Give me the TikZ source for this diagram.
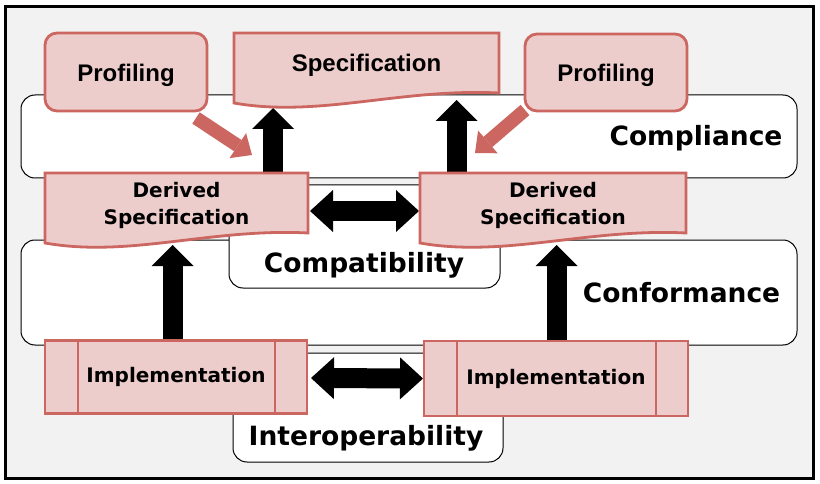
\documentclass[tikz,border=0pt]{standalone}
\usepackage{fontspec}
\setmainfont{DejaVu Sans}
\newfontfamily\arialf{Liberation Sans}
\usetikzlibrary{arrows.meta}
\definecolor{pinkfill}{RGB}{237,205,204}
\definecolor{pinkline}{RGB}{203,102,96}
\definecolor{bggray}{RGB}{242,242,242}
\pgfdeclarelayer{bandlayer}
\pgfdeclarelayer{arrowlayer}
\pgfsetlayers{bandlayer,arrowlayer,main}
\tikzset{
  band/.style={draw=black, line width=1pt, fill=white, rounded corners=14pt},
  pinkbox/.style={draw=pinkline, fill=pinkfill, line width=2.8pt, outer sep=0pt, inner sep=0pt},
  docnode/.style={anchor=north west, minimum height=60pt, inner sep=0pt, outer sep=0pt},
  bigtxt/.style={font=\bfseries\fontsize{26.5}{30}\selectfont, inner sep=0pt},
  midtxt/.style={font=\bfseries\fontsize{20}{27}\selectfont, align=center},
  arialtxt/.style={font=\arialf\bfseries\fontsize{24}{27}\selectfont},
  blk/.style={line width=20pt, -{Triangle[width=42pt,length=21pt,line width=0pt]}},
  blkboth/.style={line width=20pt, {Triangle[width=42pt,length=23pt,line width=0pt]}-{Triangle[width=42pt,length=23pt,line width=0pt]}},
  pk/.style={line width=13.5pt, draw=pinkline, -{Triangle[width=30pt,length=17pt,line width=0pt]}}
}
\newcommand\docshape[3]{\begin{scope}[shift={(#1,#2)}]\draw[pinkbox] (0,0) -- (#3,0) -- (#3,60) .. controls (#3-98,55) and (85,85) .. (0,70) -- cycle;\end{scope}}
\begin{document}
\begin{tikzpicture}[x=1pt,y=-1pt]
\useasboundingbox (0,0) rectangle (820,484);
\begin{pgfonlayer}{bandlayer}
\fill[white] (0,0) rectangle (820,484);
\draw[line width=3pt, fill=bggray] (5.5,6.5) rectangle (813.5,478.5);
\draw[band] (21,95) rectangle (797,178);
\draw[band] (21,240) rectangle (797,345);
\draw[band] (229,185) rectangle (500,288);
\draw[band] (233,353) rectangle (503,462);
\node[bigtxt] (compliance) at (696,138.5) {Compliance};
\node[bigtxt] (conformance) at (681.5,293) {Conformance};
\node[bigtxt] (compatibility) at (364,265.5) {Compatibility};
\node[bigtxt] (interop) at (366,438.5) {Interoperability};
\end{pgfonlayer}

% document-shaped boxes
\docshape{234}{33}{265}
\node[docnode, arialtxt, minimum width=265pt] (spec) at (234,35) {Specification};
\docshape{45}{173}{263}
\node[docnode, midtxt, minimum width=263pt] (dsL) at (45,175) {Derived\\Specification};
\docshape{420}{173}{266}
\node[docnode, midtxt, minimum width=266pt] (dsR) at (420,175) {Derived\\Specification};

% profiling boxes
\node[pinkbox, rounded corners=12pt, minimum width=162pt, minimum height=78pt] (profL) at (126,72) {};
\node[arialtxt] (profLt) at (126,75) {Profiling};
\node[pinkbox, rounded corners=12pt, minimum width=162pt, minimum height=77pt] (profR) at (606,72.5) {};
\node[arialtxt] (profRt) at (606,75.5) {Profiling};

% implementation boxes
\node[pinkbox, midtxt, minimum width=262pt, minimum height=73pt] (implL) at (176,377) {Implementation};
\draw[pinkbox] ([xshift=33pt]implL.north west) -- ([xshift=33pt]implL.south west);
\draw[pinkbox] ([xshift=-32pt]implL.north east) -- ([xshift=-32pt]implL.south east);
\node[pinkbox, midtxt, minimum width=264pt, minimum height=75pt] (implR) at (556,378.5) {Implementation};
\draw[pinkbox] ([xshift=33pt]implR.north west) -- ([xshift=33pt]implR.south west);
\draw[pinkbox] ([xshift=-32pt]implR.north east) -- ([xshift=-32pt]implR.south east);

% arrow tips
\coordinate (t1) at (273,108);
\coordinate (t2) at (456.5,100);
\coordinate (t3) at (172.5,245);
\coordinate (t4) at (556.5,245);
\coordinate (t5) at (252,155);
\coordinate (t6) at (475,153);

\begin{pgfonlayer}{arrowlayer}
\draw[blk] (dsL.north -| t1) -- (t1);
\draw[blk] (dsR.north -| t2) -- (t2);
\draw[blk] (implL.north -| t3) -- (t3);
\draw[blk] (implR.north -| t4) -- (t4);
\draw[blkboth] ([xshift=2pt,yshift=-6pt]dsL.east) -- ([xshift=-1pt,yshift=-6pt]dsR.west);
\draw[blkboth] ([xshift=4pt,yshift=-1pt]implL.east) -- ([xshift=-1pt]implR.west);
\draw[pk] ([xshift=-11pt,yshift=-7pt]profL.south east) -- (t5);
\draw[pk] ([yshift=1pt]profR.south west) -- (t6);
\end{pgfonlayer}
\end{tikzpicture}
\end{document}
